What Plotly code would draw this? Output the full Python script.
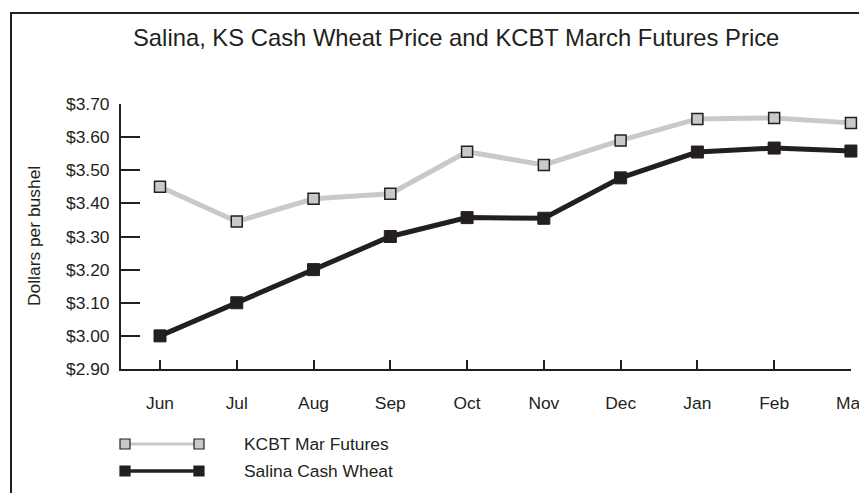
import plotly.graph_objects as go

months = ["Jun", "Jul", "Aug", "Sep", "Oct", "Nov", "Dec", "Jan", "Feb", "Mar"]
kcbt_futures = [3.45, 3.345, 3.414, 3.429, 3.556, 3.516, 3.59, 3.655, 3.658, 3.643]
salina_cash = [3.00, 3.10, 3.20, 3.30, 3.357, 3.355, 3.477, 3.555, 3.567, 3.558]
y_ticks = [2.9, 3.0, 3.1, 3.2, 3.3, 3.4, 3.5, 3.6, 3.7]
y_tick_text = ["$%.2f" % v for v in y_ticks]
series_names = ["KCBT Mar Futures", "Salina Cash Wheat"]

INK = "#231f20"
GRAY_LINE = "#c8c9ca"
GRAY_FILL = "#c8c9cb"
FONT = "Liberation Sans, Arial, sans-serif"

W, H = 859, 493
L, R, T, B = 121, 851, 104, 369  # page coordinates of the plot area
PW, PH = R - L, B - T

def px(x):
    return (x - L) / PW

def py(y):
    return (B - y) / PH

fig = go.Figure()
fig.add_trace(go.Scatter(
    x=list(range(len(months))), y=kcbt_futures, mode="lines+markers",
    name=series_names[0],
    line=dict(color=GRAY_LINE, width=5),
    marker=dict(symbol="square", size=11, color=GRAY_FILL, line=dict(color=INK, width=1.5)),
    cliponaxis=False, showlegend=False,
))
fig.add_trace(go.Scatter(
    x=list(range(len(months))), y=salina_cash, mode="lines+markers",
    name=series_names[1],
    line=dict(color=INK, width=5),
    marker=dict(symbol="square", size=12, color=INK, line=dict(color=INK, width=1)),
    cliponaxis=False, showlegend=False,
))

shapes = []
# outer frame (left and top edges visible)
shapes.append(dict(type="line", xref="paper", yref="paper", x0=px(11), x1=px(11), y0=py(12), y1=py(520),
                   line=dict(color=INK, width=2)))
shapes.append(dict(type="line", xref="paper", yref="paper", x0=px(10), x1=px(900), y0=py(13), y1=py(13),
                   line=dict(color=INK, width=2)))

# legend
annotations = []
leg = [(444, GRAY_LINE, GRAY_FILL, 3, series_names[0]), (471, INK, INK, 3.5, series_names[1])]
for (yy, lc, fc, lw, name) in leg:
    shapes.append(dict(type="line", xref="paper", yref="paper", x0=px(125), x1=px(199), y0=py(yy), y1=py(yy),
                       line=dict(color=lc, width=lw)))
    for cx in (125, 199):
        shapes.append(dict(type="rect", xref="paper", yref="paper",
                           x0=px(cx - 5), x1=px(cx + 5), y0=py(yy - 5), y1=py(yy + 5),
                           fillcolor=fc, line=dict(color=INK, width=1.2)))
    annotations.append(dict(text=name, xref="paper", yref="paper", x=px(242), y=py(yy),
                            xanchor="left", yanchor="middle", showarrow=False,
                            font=dict(family=FONT, size=17.4, color=INK)))

annotations.append(dict(text="Dollars per bushel", xref="paper", yref="paper", x=px(34), y=py(236),
                        xanchor="center", yanchor="middle", textangle=-90, showarrow=False,
                        font=dict(family=FONT, size=17.4, color=INK)))
annotations.append(dict(text="Salina, KS Cash Wheat Price and KCBT March Futures Price",
                        xref="paper", yref="paper", x=px(456), y=py(37),
                        xanchor="center", yanchor="middle", showarrow=False,
                        font=dict(family=FONT, size=23.8, color=INK)))

fig.update_layout(
    width=W, height=H,
    margin=dict(l=L, r=W - R, t=T, b=H - B, pad=0, autoexpand=False),
    paper_bgcolor="white", plot_bgcolor="white",
    font=dict(family=FONT, size=17.4, color=INK),
    shapes=shapes, annotations=annotations,
    xaxis=dict(
        range=[-0.508, 9.001], tickmode="array", tickvals=list(range(len(months))), ticktext=months,
        showgrid=False, zeroline=False, showline=True, linecolor=INK, linewidth=2,
        ticks="inside", ticklen=9, tickwidth=2, tickcolor=INK, ticklabelstandoff=17,
        ticklabeloverflow="allow", automargin=False,
        tickfont=dict(family=FONT, size=17.4, color=INK),
    ),
    yaxis=dict(
        range=[2.9, 3.7], tickmode="array", tickvals=y_ticks, ticktext=y_tick_text,
        showgrid=False, zeroline=False, showline=True, linecolor=INK, linewidth=2,
        ticks="inside", ticklen=19, tickwidth=2, tickcolor=INK, ticklabelstandoff=6,
        automargin=False,
        tickfont=dict(family=FONT, size=17.4, color=INK),
    ),
    showlegend=False,
)

fig.write_html(
    "out.html",
    config={"displayModeBar": False},
    post_script="document.body.style.margin='0';document.body.style.overflow='hidden';",
)
